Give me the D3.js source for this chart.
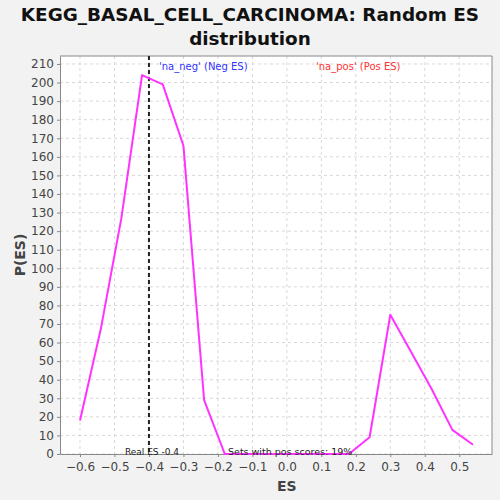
<!DOCTYPE html>
<html>
<head>
<meta charset="utf-8">
<script src="https://cdn.jsdelivr.net/npm/d3@7"></script>
<style>
  body { margin: 0; background: #f2f2f2; }
  svg { display: block; font-family: "DejaVu Sans", Verdana, sans-serif; }
</style>
</head>
<body>
<div id="chart"></div>
<script>
// data
const esValues = [-0.6, -0.54, -0.48, -0.42, -0.36, -0.30, -0.24, -0.18, -0.12, -0.06,
                  0.0, 0.06, 0.12, 0.18, 0.24, 0.30, 0.36, 0.42, 0.48, 0.54];
const pValues = [18, 67, 127, 204, 199, 166, 29, 0, 0, 0,
                 0, 0, 0, 0, 9, 75, 55, 35, 13, 5];
const xTicks = [-0.6, -0.5, -0.4, -0.3, -0.2, -0.1, 0.0, 0.1, 0.2, 0.3, 0.4, 0.5];
const yTicks = d3.range(0, 211, 10);
const realES = -0.4;
const titleLines = ["KEGG_BASAL_CELL_CARCINOMA: Random ES", "distribution"];

const width = 500, height = 500;
const marginLeft = 60, marginRight = 8, marginTop = 56, marginBottom = 46;

const xScale = d3.scaleLinear([-0.658, 0.595], [marginLeft, width - marginRight]);
const yScale = d3.scaleLinear([0, 214.3], [height - marginBottom, marginTop]);

const svg = d3.select("#chart").append("svg")
  .attr("width", width)
  .attr("height", height)
  .attr("viewBox", [0, 0, width, height]);

svg.append("rect").attr("width", width).attr("height", height).attr("fill", "#f2f2f2");

// title
svg.append("g")
  .selectAll("text")
  .data(titleLines)
  .join("text")
  .attr("x", width / 2)
  .attr("y", (d, i) => 21 + i * 24)
  .attr("text-anchor", "middle")
  .attr("font-size", 18.4)
  .attr("font-weight", "bold")
  .attr("fill", "#111")
  .text(d => d);

// plot background
svg.append("rect")
  .attr("x", marginLeft)
  .attr("y", marginTop)
  .attr("width", width - marginLeft - marginRight)
  .attr("height", height - marginTop - marginBottom)
  .attr("fill", "white");

// grid
const grid = svg.append("g")
  .attr("stroke", "#d8d8d8")
  .attr("stroke-dasharray", "3,3")
  .attr("stroke-width", 1);
grid.selectAll(".gx").data(xTicks).join("line")
  .attr("x1", d => xScale(d)).attr("x2", d => xScale(d))
  .attr("y1", marginTop).attr("y2", height - marginBottom);
grid.selectAll(".gy").data(yTicks).join("line")
  .attr("x1", marginLeft).attr("x2", width - marginRight)
  .attr("y1", d => yScale(d)).attr("y2", d => yScale(d));

// axes
const xAxis = d3.axisBottom(xScale).tickValues(xTicks).tickFormat(d3.format(".1f")).tickSizeInner(3).tickSizeOuter(0);
const yAxis = d3.axisLeft(yScale).tickValues(yTicks).tickSizeInner(3).tickSizeOuter(0);

svg.append("g")
  .attr("transform", `translate(0,${height - marginBottom})`)
  .call(xAxis)
  .call(g => g.select(".domain").attr("stroke", "#888"))
  .call(g => g.selectAll(".tick line").attr("stroke", "#888"))
  .call(g => g.selectAll(".tick text").attr("font-size", 12).attr("fill", "#444").attr("dy", "0.9em")
    .attr("font-family", "DejaVu Sans, sans-serif"));

svg.append("g")
  .attr("transform", `translate(${marginLeft},0)`)
  .call(yAxis)
  .call(g => g.select(".domain").attr("stroke", "#888"))
  .call(g => g.selectAll(".tick line").attr("stroke", "#888"))
  .call(g => g.selectAll(".tick text").attr("font-size", 12).attr("fill", "#444")
    .attr("font-family", "DejaVu Sans, sans-serif"));

// top and right border
svg.append("path")
  .attr("fill", "none")
  .attr("stroke", "#888")
  .attr("d", `M${marginLeft},${marginTop}H${width - marginRight}V${height - marginBottom}`);

// axis labels
svg.append("text")
  .attr("x", xScale(0))
  .attr("y", 491)
  .attr("text-anchor", "middle")
  .attr("font-size", 14)
  .attr("font-weight", "bold")
  .attr("fill", "#444")
  .text("ES");

svg.append("text")
  .attr("transform", `translate(25,${(marginTop + height - marginBottom) / 2}) rotate(-90)`)
  .attr("text-anchor", "middle")
  .attr("font-size", 14)
  .attr("font-weight", "bold")
  .attr("fill", "#444")
  .text("P(ES)");

// real ES marker
svg.append("line")
  .attr("x1", xScale(realES)).attr("x2", xScale(realES))
  .attr("y1", marginTop).attr("y2", height - marginBottom)
  .attr("stroke", "#222")
  .attr("stroke-width", 2)
  .attr("stroke-dasharray", "4,3");

// the distribution line
const line = d3.line()
  .x((d, i) => xScale(esValues[i]))
  .y(d => yScale(d));

svg.append("path")
  .attr("fill", "none")
  .attr("stroke", "#ff33ff")
  .attr("stroke-width", 2)
  .attr("stroke-linejoin", "round")
  .attr("d", line(pValues));

// legend / annotations
svg.append("text")
  .attr("x", 159).attr("y", 70)
  .attr("font-size", 10).attr("fill", "#3333ff")
  .text("'na_neg' (Neg ES)");
svg.append("text")
  .attr("x", 316).attr("y", 70)
  .attr("font-size", 10).attr("fill", "#ff3333")
  .text("'na_pos' (Pos ES)");

svg.append("text")
  .attr("x", xScale(realES) + 3).attr("y", 455)
  .attr("text-anchor", "middle")
  .attr("font-size", 9).attr("fill", "#222")
  .text("Real ES -0.4");
svg.append("text")
  .attr("x", 228).attr("y", 455)
  .attr("font-size", 9.5).attr("fill", "#222")
  .text("Sets with pos scores: 19%");
</script>
</body>
</html>
